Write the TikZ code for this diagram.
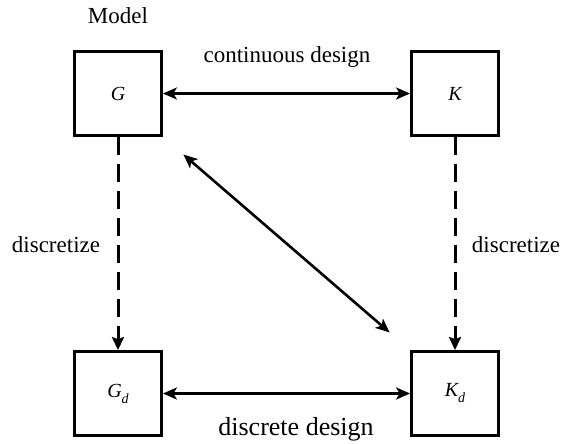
\documentclass[tikz,border=0pt]{standalone}
\usepackage{fontspec}
\setmainfont{Liberation Serif}
\usetikzlibrary{arrows.meta}
\tikzset{
  block/.style={draw, line width=2.8pt, minimum width=87pt, minimum height=84pt, inner sep=0pt,
                font=\fontsize{20}{22}\selectfont\itshape},
  headtip/.tip={Stealth[length=14pt,width=12pt,inset=3.5pt]},
  link/.style={line width=2.6pt, headtip-headtip},
  discr/.style={line width=3pt, dash pattern=on 18pt off 9pt, -{Stealth[length=13pt,width=12pt,inset=2pt]}},
  lbl/.style={font=\fontsize{23}{27}\selectfont, inner sep=0pt},
}
\newcommand{\subd}{\raisebox{-0.3em}{\fontsize{14}{15}\selectfont d}}
\begin{document}
\begin{tikzpicture}[x=1pt, y=-1pt]
  \useasboundingbox (0,0) rectangle (562,444);
  % the four blocks
  \node[block] (G)  at (118, 93.5) {G};
  \node[block] (K)  at (455, 93.5) {K};
  \node[block] (Gd) at (118, 393.5) {G\subd};
  \node[block] (Kd) at (455, 393.5) {K\subd};
  % labels
  \node[lbl] (model) at (118, 16) {Model};
  \node[lbl] (cont) at (287, 57) {continuous design};
  \node[lbl] (dl) at (56, 245) {discretize};
  \node[lbl] (dr) at (516, 245) {discretize};
  \node[lbl, font=\fontsize{26}{30}\selectfont] (disc) at (296, 429) {discrete design};
  % connectors
  \draw[link] (G) -- (K);
  \draw[link] (Gd) -- (Kd);
  \draw[link, shorten <=27pt, shorten >=27pt] (G.south east) -- (Kd.north west);
  \draw[discr] (G.south) -- (Gd.north);
  \draw[discr] (K.south) -- (Kd.north);
\end{tikzpicture}
\end{document}
